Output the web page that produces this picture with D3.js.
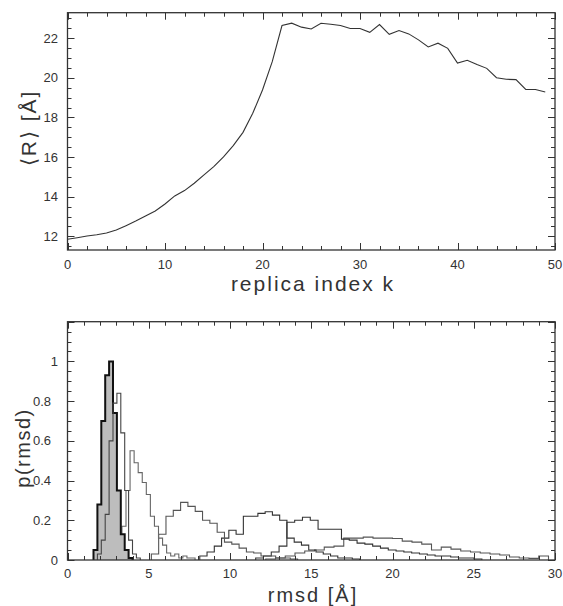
<!DOCTYPE html>
<html><head><meta charset="utf-8">
<script src="https://cdn.jsdelivr.net/npm/d3@7"></script>
<style>
html,body{margin:0;padding:0;background:#fff;}
text{font-family:"Liberation Sans",Arial,sans-serif;fill:#333;}
</style></head>
<body>
<svg id="chart" width="563" height="606"></svg>
<script>
// ---- top panel data: mean R per replica index ----
const replicaK = [0,1,2,3,4,5,6,7,8,9,10,11,12,13,14,15,16,17,18,19,20,21,22,23,24,25,26,27,28,29,30,31,32,33,34,35,36,37,38,39,40,41,42,43,44,45,46,47,48,49];
const meanR = [11.85,11.93,12.02,12.08,12.17,12.32,12.54,12.77,13.03,13.28,13.63,14.04,14.31,14.68,15.10,15.52,16.01,16.58,17.25,18.21,19.39,20.82,22.64,22.76,22.56,22.47,22.76,22.71,22.64,22.49,22.49,22.30,22.69,22.20,22.39,22.22,21.92,21.56,21.75,21.49,20.75,20.89,20.67,20.48,20.01,19.93,19.91,19.42,19.41,19.29];
const topXTicks = [0,10,20,30,40,50];
const topYTicks = [12,14,16,18,20,22];

// ---- bottom panel data: rmsd histograms (bin start, bin width, bin heights) ----
const histAStart = 1.6,  histAWidth = 0.24;
const histA = [0.05,0.28,0.70,0.93,1.0,0.74,0.35,0.13,0.05,0.01];
const histBStart = 1.84, histBWidth = 0.24;
const histB = [0.03,0.10,0.23,0.60,0.79,0.84,0.64,0.35,0.10,0.03,0.01];
const histCStart = 2.85, histCWidth = 0.25;
const histC = [0.03,0.07,0.17,0.35,0.55,0.49,0.44,0.39,0.33,0.22,0.17,0.11,0.075,0.035,0.02,0.03,0.01,0.02,0.01,0.01];
const histDStart = 5.16, histDWidth = 0.45;
const histD = [0.03,0.13,0.22,0.25,0.29,0.27,0.245,0.20,0.185,0.14,0.09,0.08,0.06,0.04,0.035,0.02,0.02,0.01,0.01,0.005];
const histEStart = 8.14, histEWidth = 0.447;
const histE = [0.02,0.04,0.07,0.11,0.15,0.13,0.22,0.22,0.235,0.243,0.226,0.20,0.11,0.09,0.075,0.05,0.04,0.03,0.02,0.01,0.01,0.005];
const histFStart = 11.58, histFWidth = 0.48;
const histF = [0.01,0.02,0.04,0.07,0.19,0.20,0.215,0.20,0.155,0.155,0.155,0.105,0.10,0.085,0.08,0.07,0.06,0.05,0.045,0.04,0.035,0.03,0.025,0.02,0.02,0.015,0.01,0.01,0.005];
const histGStart = 12.2, histGWidth = 0.6;
const histG = [0.005,0.01,0.02,0.035,0.045,0.05,0.065,0.07,0.11,0.11,0.115,0.11,0.11,0.108,0.095,0.09,0.08,0.05,0.065,0.055,0.045,0.04,0.035,0.03,0.025,0.015,0.01,0.008,0.02];
const botXTicks = [0,5,10,15,20,25,30];
const botYTicks = [0,0.2,0.4,0.6,0.8,1];

const svg = d3.select("#chart");
const L = 67.5, R = 555;
const axisColor = "#333";

function frame(g, x, y, xMajor, xMinor, yMajor, yMinor, top, bottom) {
  const tk = g.append("g").attr("stroke", axisColor).attr("stroke-width", 1);
  const xd = x.domain(), yd = y.domain();
  const xs = d3.range(xd[0], xd[1] + 1e-9, xMinor);
  xs.forEach(v => {
    const maj = Math.abs(v / xMajor - Math.round(v / xMajor)) < 1e-6;
    const len = maj ? 7 : 4;
    const px = Math.round(x(v)) + 0.5;
    tk.append("line").attr("x1", px).attr("x2", px).attr("y1", bottom).attr("y2", bottom - len);
    tk.append("line").attr("x1", px).attr("x2", px).attr("y1", top).attr("y2", top + len);
  });
  const first = Math.ceil(yd[0] / yMinor - 1e-9) * yMinor;
  const ys = d3.range(first, yd[1] + 1e-9, yMinor);
  ys.forEach(v => {
    const maj = Math.abs(v / yMajor - Math.round(v / yMajor)) < 1e-6;
    const len = maj ? 7 : 4;
    const py = Math.round(y(v)) + 0.5;
    tk.append("line").attr("y1", py).attr("y2", py).attr("x1", L).attr("x2", L + len);
    tk.append("line").attr("y1", py).attr("y2", py).attr("x1", R).attr("x2", R - len);
  });
  g.append("rect").attr("x", L).attr("y", top).attr("width", R - L).attr("height", bottom - top)
    .attr("fill", "none").attr("stroke", axisColor).attr("stroke-width", 1.3);
}

// ================= TOP PANEL =================
const tTop = 12.7, tBot = 250;
const xTop = d3.scaleLinear().domain([0, 50]).range([L, R]);
const yTop = d3.scaleLinear().domain([11.31, 23.29]).range([tBot, tTop]);
const gTop = svg.append("g");
frame(gTop, xTop, yTop, 10, 2, 2, 0.5, tTop, tBot);

const lineTop = d3.line().x((d, i) => xTop(replicaK[i])).y(d => yTop(d));
gTop.append("path").datum(meanR).attr("d", lineTop)
  .attr("fill", "none").attr("stroke", "#333").attr("stroke-width", 1.1);

gTop.selectAll("text.xt").data(topXTicks).enter().append("text")
  .attr("x", d => xTop(d)).attr("y", 269).attr("text-anchor", "middle")
  .attr("font-size", 13).text(d => d);
gTop.selectAll("text.yt").data(topYTicks).enter().append("text")
  .attr("x", 58).attr("y", d => yTop(d) + 4.5).attr("text-anchor", "end")
  .attr("font-size", 13).text(d => d);
gTop.append("text").attr("x", 313).attr("y", 291).attr("text-anchor", "middle")
  .attr("font-size", 21).attr("letter-spacing", 2).text("replica index k");
gTop.append("text").attr("transform", "translate(36,128) rotate(-90)")
  .attr("text-anchor", "middle").attr("font-size", 21).attr("letter-spacing", 2).text("⟨R⟩ [Å]");

// ================= BOTTOM PANEL =================
const bTop = 321.7, bBot = 560;
const xBot = d3.scaleLinear().domain([0, 30]).range([L, R]);
const yBot = d3.scaleLinear().domain([0, 1.2]).range([bBot, bTop]);
const gBot = svg.append("g");

function stepPoints(start, width, vals) {
  const pts = [[start, 0]];
  vals.forEach((v, i) => pts.push([start + i * width, v]));
  pts.push([start + vals.length * width, 0]);
  return pts;
}
const stepLine = d3.line().curve(d3.curveStepAfter)
  .x(d => xBot(Math.min(d[0], 30))).y(d => yBot(d[1]));

const hists = [
  {s: histGStart, w: histGWidth, v: histG, c: "#555", sw: 1.1, fill: "none"},
  {s: histFStart, w: histFWidth, v: histF, c: "#333", sw: 1.1, fill: "none"},
  {s: histEStart, w: histEWidth, v: histE, c: "#333", sw: 1.1, fill: "none"},
  {s: histDStart, w: histDWidth, v: histD, c: "#555", sw: 1.1, fill: "none"},
  {s: histCStart, w: histCWidth, v: histC, c: "#666", sw: 1.1, fill: "none"},
  {s: histAStart, w: histAWidth, v: histA, c: "#111", sw: 2, fill: "#bdbdbd"},
  {s: histBStart, w: histBWidth, v: histB, c: "#444", sw: 1.1, fill: "none"}
];
hists.forEach(h => {
  gBot.append("path").datum(stepPoints(h.s, h.w, h.v)).attr("d", stepLine)
    .attr("fill", h.fill).attr("stroke", h.c).attr("stroke-width", h.sw)
    .attr("stroke-linejoin", "miter");
});
frame(gBot, xBot, yBot, 5, 1, 0.2, 0.05, bTop, bBot);

gBot.selectAll("text.xt").data(botXTicks).enter().append("text")
  .attr("x", d => xBot(d)).attr("y", 578).attr("text-anchor", "middle")
  .attr("font-size", 13).text(d => d);
gBot.selectAll("text.yt").data(botYTicks).enter().append("text")
  .attr("x", d => Number.isInteger(d) ? 58 : 51).attr("y", d => yBot(d) + 4.5).attr("text-anchor", "end")
  .attr("font-size", 13).text(d => d);
gBot.append("text").attr("x", 313).attr("y", 602).attr("text-anchor", "middle")
  .attr("font-size", 20).attr("letter-spacing", 2).text("rmsd [Å]");
gBot.append("text").attr("transform", "translate(30,448) rotate(-90)")
  .attr("text-anchor", "middle").attr("font-size", 20).attr("letter-spacing", 1.5).text("p(rmsd)");
</script>
</body></html>
